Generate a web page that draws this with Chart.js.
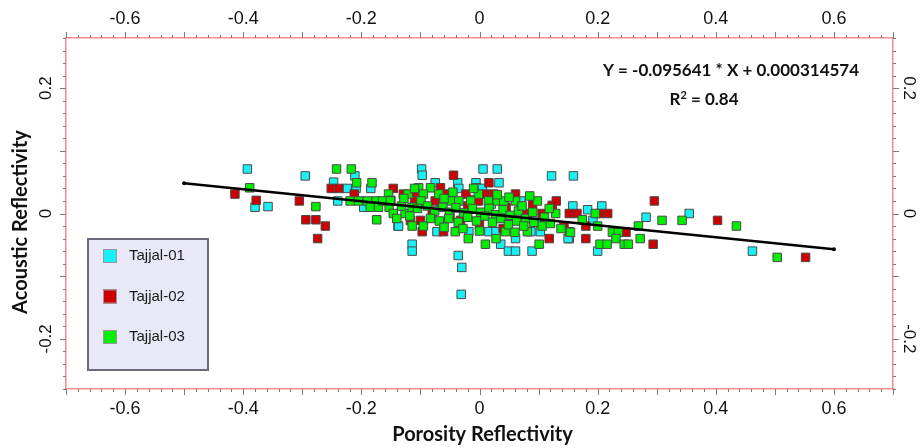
<!DOCTYPE html>
<html>
<head>
<meta charset="utf-8">
<script src="https://cdn.jsdelivr.net/npm/chart.js@4.4.0/dist/chart.umd.min.js"></script>
<style>
  body { margin: 0; background: #fff; }
  canvas { display: block; }
</style>
</head>
<body>
<canvas id="scatterChart" width="921" height="448"></canvas>
<script>
// tick labels on the axes
const xTickLabels = [-0.6, -0.4, -0.2, 0, 0.2, 0.4, 0.6];
const yTickLabels = [-0.2, 0, 0.2];

// well names for the legend
const wellNames = ['Tajjal-01', 'Tajjal-02', 'Tajjal-03'];

// [porosity reflectivity, acoustic reflectivity]
const tajjal01 = [
  [-0.393, 0.071], [-0.380, 0.010], [-0.358, 0.011], [-0.295, 0.060], [-0.211, 0.060], [-0.247, 0.050],
  [-0.224, 0.040], [-0.209, 0.040], [-0.184, 0.040], [-0.240, 0.020], [-0.196, 0.010], [-0.138, -0.020],
  [-0.098, 0.071], [-0.097, 0.061], [0.006, 0.071], [0.030, 0.071], [0.122, 0.060], [0.159, 0.060],
  [-0.075, 0.049], [-0.037, 0.049], [-0.006, 0.049], [0.033, 0.049], [-0.035, 0.040], [-0.005, 0.041],
  [0.005, 0.040], [-0.137, -0.020], [-0.072, -0.029], [-0.018, -0.029], [0.016, -0.029], [0.028, -0.029],
  [0.087, -0.029], [0.103, -0.029], [0.061, -0.040], [0.152, -0.040], [-0.114, -0.049], [-0.114, -0.060],
  [0.036, -0.049], [0.049, -0.060], [0.061, -0.060], [0.089, -0.060], [-0.036, -0.067], [-0.030, -0.086],
  [-0.031, -0.129], [0.158, 0.012], [0.183, 0.006], [0.207, 0.012], [0.192, -0.011], [0.282, -0.006],
  [0.355, 0.000], [0.150, -0.040], [0.200, -0.060], [0.462, -0.060], [-0.010, 0.022], [0.020, 0.015],
  [0.050, -0.010], [0.070, 0.020], [-0.065, 0.015]
];
const tajjal02 = [
  [-0.414, 0.031], [-0.378, 0.021], [-0.305, 0.020], [-0.294, -0.010], [-0.277, -0.010], [-0.261, -0.020],
  [-0.274, -0.040], [-0.251, 0.040], [-0.238, 0.040], [-0.212, 0.031], [-0.146, 0.040], [-0.044, 0.061],
  [0.016, 0.049], [-0.066, 0.041], [-0.129, 0.031], [-0.110, 0.031], [-0.058, 0.031], [-0.023, 0.031],
  [0.010, 0.031], [0.024, 0.031], [0.061, 0.031], [-0.110, 0.020], [-0.075, 0.020], [-0.002, 0.020],
  [0.123, 0.013], [0.152, 0.000], [0.165, 0.000], [-0.117, -0.011], [-0.100, -0.011], [-0.080, 0.000],
  [-0.032, -0.011], [0.078, 0.000], [0.106, 0.000], [-0.097, -0.029], [-0.061, -0.029], [0.118, -0.040],
  [0.204, 0.000], [0.217, 0.000], [0.296, 0.020], [0.143, -0.020], [0.180, -0.020], [0.248, -0.030],
  [0.180, -0.040], [0.294, -0.049], [0.403, -0.011], [0.552, -0.070], [-0.020, 0.012], [0.045, 0.010],
  [0.090, 0.014], [0.130, 0.020], [-0.050, -0.005], [0.000, -0.018], [0.040, -0.024]
];
const tajjal03 = [
  [-0.389, 0.041], [-0.277, 0.011], [-0.242, 0.071], [-0.217, 0.071], [-0.208, 0.049], [-0.182, 0.049],
  [-0.154, 0.031], [-0.150, 0.021], [-0.219, 0.020], [-0.205, 0.020], [-0.190, 0.020], [-0.175, 0.020],
  [-0.185, 0.010], [-0.171, 0.010], [-0.153, 0.010], [-0.146, 0.000], [-0.174, -0.010],
  [-0.103, 0.041], [-0.083, 0.041], [-0.121, 0.031], [-0.095, 0.031], [-0.069, 0.031], [-0.002, 0.031],
  [-0.164, 0.020], [-0.151, 0.020], [-0.099, 0.020], [-0.049, 0.020], [-0.035, 0.020], [-0.015, 0.020],
  [0.015, 0.020], [0.030, 0.020], [0.041, 0.020], [0.061, 0.020], [0.098, 0.020], [-0.126, 0.000],
  [-0.114, 0.010], [-0.114, -0.020], [-0.095, -0.020], [-0.041, -0.029], [0.044, -0.029], [0.081, -0.029],
  [0.106, -0.020], [0.152, -0.029], [-0.019, -0.040], [0.010, -0.049], [0.101, -0.049], [0.129, 0.000],
  [-0.132, 0.012], [-0.105, 0.008], [-0.088, 0.012], [-0.076, 0.004], [-0.062, 0.010], [-0.051, 0.002],
  [-0.040, 0.009], [-0.027, 0.001], [-0.012, 0.008], [0.002, 0.002], [0.016, 0.008], [0.027, -0.002],
  [0.040, 0.006], [0.052, -0.003], [0.066, 0.004], [0.078, -0.008], [0.090, 0.002], [0.110, -0.006],
  [-0.140, -0.008], [-0.118, -0.004], [-0.083, -0.008], [-0.068, -0.012], [-0.052, -0.008], [-0.036, -0.014],
  [-0.020, -0.006], [-0.005, -0.012], [0.009, -0.004], [0.022, -0.014], [0.036, -0.008], [0.049, -0.018],
  [0.063, -0.012], [0.075, -0.020], [0.092, -0.014], [0.120, -0.016], [0.138, -0.024],
  [-0.128, 0.024], [-0.110, 0.040], [-0.060, 0.024], [-0.045, 0.034], [-0.010, 0.040], [0.030, 0.030],
  [0.050, 0.026], [0.072, 0.012], [0.085, 0.028], [0.118, 0.008],
  [-0.060, -0.022], [-0.028, -0.024], [0.000, -0.028], [0.060, -0.030], [0.028, -0.040],
  [0.174, -0.010], [0.196, 0.000], [0.200, -0.020], [0.269, -0.020], [0.309, -0.011], [0.343, -0.011],
  [0.435, -0.020], [0.154, -0.030], [0.225, -0.030], [0.235, -0.030], [0.231, -0.040], [0.272, -0.040],
  [0.204, -0.049], [0.216, -0.049], [0.245, -0.049], [0.252, -0.049], [0.504, -0.070]
];

// ends of the fitted line
const fitLine = [[-0.5, 0.0481], [0.6, -0.0571]];

const fitEquation = 'Y = -0.095641 * X + 0.000314574';
const fitR2 = '0.84';

const wellColors = ['#19f0f4', '#cc0000', '#00ee00'];
const axisRed = '#f38b8b';

const toPts = arr => arr.map(p => ({ x: p[0], y: p[1] }));

const fmt = v => (v === 0 ? '0' : String(v));

const decorations = {
  id: 'decorations',
  afterDraw(chart) {
    const ctx = chart.ctx;
    const { left, right, top, bottom } = chart.chartArea;
    const sx = chart.scales.x, sy = chart.scales.y;

    ctx.save();
    // tick marks, every 0.02, longer every 0.1
    ctx.strokeStyle = '#7a7a7a';
    ctx.lineWidth = 1;
    ctx.beginPath();
    for (let i = -35; i <= 35; i++) {
      const px = Math.round(sx.getPixelForValue(i / 50)) + 0.5;
      const len = i % 5 === 0 ? 6 : 3;
      ctx.moveTo(px, bottom); ctx.lineTo(px, bottom + len);
      ctx.moveTo(px, top); ctx.lineTo(px, top - len);
    }
    for (let i = -14; i <= 14; i++) {
      const py = Math.round(sy.getPixelForValue(i / 50)) + 0.5;
      const len = i % 5 === 0 ? 6 : 3;
      ctx.moveTo(left, py); ctx.lineTo(left - len, py);
      ctx.moveTo(right, py); ctx.lineTo(right + len, py);
    }
    ctx.stroke();

    // tick labels
    ctx.fillStyle = '#111';
    ctx.textAlign = 'center';
    ctx.textBaseline = 'middle';
    ctx.font = '18px "Liberation Sans", Arial, sans-serif';
    xTickLabels.forEach(v => {
      const px = sx.getPixelForValue(v);
      ctx.fillText(fmt(v), px, bottom + 20);
      ctx.fillText(fmt(v), px, top - 19);
    });
    ctx.font = '17px "Liberation Sans", Arial, sans-serif';
    yTickLabels.forEach(v => {
      const py = sy.getPixelForValue(v);
      ctx.save();
      ctx.translate(left - 20, py);
      ctx.rotate(-Math.PI / 2);
      ctx.fillText(fmt(v), 0, 0);
      ctx.restore();
      ctx.save();
      ctx.translate(right + 16, py);
      ctx.rotate(Math.PI / 2);
      ctx.fillText(fmt(v), 0, 0);
      ctx.restore();
    });

    // axis titles
    ctx.font = 'bold 20px Lato, sans-serif';
    ctx.fillText('Porosity Reflectivity', (left + right) / 2 + 3, bottom + 46);
    ctx.save();
    ctx.translate(21, 222);
    ctx.rotate(-Math.PI / 2);
    ctx.fillText('Acoustic Reflectivity', 0, 0);
    ctx.restore();

    // fit equation
    ctx.font = 'bold 17px Lato, sans-serif';
    ctx.fillText(fitEquation, 731, 71);
    const r2Main = 'R', r2Rest = ' = ' + fitR2;
    ctx.textAlign = 'left';
    const w1 = ctx.measureText(r2Main).width;
    ctx.font = 'bold 11px Lato, sans-serif';
    const w2 = ctx.measureText('2').width;
    ctx.font = 'bold 17px Lato, sans-serif';
    const w3 = ctx.measureText(r2Rest).width;
    let x0 = 704 - (w1 + w2 + w3) / 2;
    ctx.fillText(r2Main, x0, 100);
    ctx.font = 'bold 11px Lato, sans-serif';
    ctx.fillText('2', x0 + w1, 95);
    ctx.font = 'bold 17px Lato, sans-serif';
    ctx.fillText(r2Rest, x0 + w1 + w2, 100);

    // legend box
    ctx.fillStyle = '#e8e8f7';
    ctx.fillRect(88, 239, 120, 131);
    ctx.strokeStyle = '#6b6b80';
    ctx.lineWidth = 2;
    ctx.strokeRect(88, 239, 120, 131);
    ctx.font = '15px "Liberation Sans", Arial, sans-serif';
    ctx.textBaseline = 'middle';
    wellNames.forEach((name, i) => {
      const cy = 256 + i * 40.5;
      ctx.fillStyle = wellColors[i];
      ctx.fillRect(103, cy - 7, 14, 14);
      ctx.strokeStyle = '#9a9a9a';
      ctx.lineWidth = 1;
      ctx.strokeRect(103.5, cy - 6.5, 13, 13);
      ctx.fillStyle = '#1a1a1a';
      ctx.fillText(name, 129, cy);
    });
    ctx.restore();
  }
};

const pointDataset = (idx, data, order) => ({
  label: wellNames[idx],
  data: toPts(data),
  pointStyle: 'rect',
  pointRadius: 6,
  pointHoverRadius: 6,
  backgroundColor: wellColors[idx],
  borderColor: '#4a4a4a',
  borderWidth: 1,
  order: order
});

const hiddenAxis = (pos, min, max) => ({
  type: 'linear',
  position: pos,
  min: min,
  max: max,
  ticks: { display: false },
  grid: { display: false, drawTicks: false },
  border: { display: true, color: axisRed, width: 1.5 }
});

new Chart(document.getElementById('scatterChart'), {
  type: 'scatter',
  data: {
    datasets: [
      {
        type: 'line',
        label: 'fit',
        data: toPts(fitLine),
        borderColor: '#000',
        borderWidth: 2.5,
        pointRadius: 2,
        pointBackgroundColor: '#000',
        pointBorderWidth: 0,
        fill: false,
        order: 0
      },
      pointDataset(2, tajjal03, 1),
      pointDataset(1, tajjal02, 2),
      pointDataset(0, tajjal01, 3)
    ]
  },
  options: {
    responsive: false,
    devicePixelRatio: 1,
    animation: false,
    layout: { padding: { left: 66, right: 28, top: 38, bottom: 59 } },
    plugins: { legend: { display: false }, tooltip: { enabled: false } },
    scales: {
      x: hiddenAxis('bottom', -0.7, 0.7),
      x2: hiddenAxis('top', -0.7, 0.7),
      y: hiddenAxis('left', -0.28, 0.28),
      y2: hiddenAxis('right', -0.28, 0.28)
    }
  },
  plugins: [decorations]
});
</script>
</body>
</html>
